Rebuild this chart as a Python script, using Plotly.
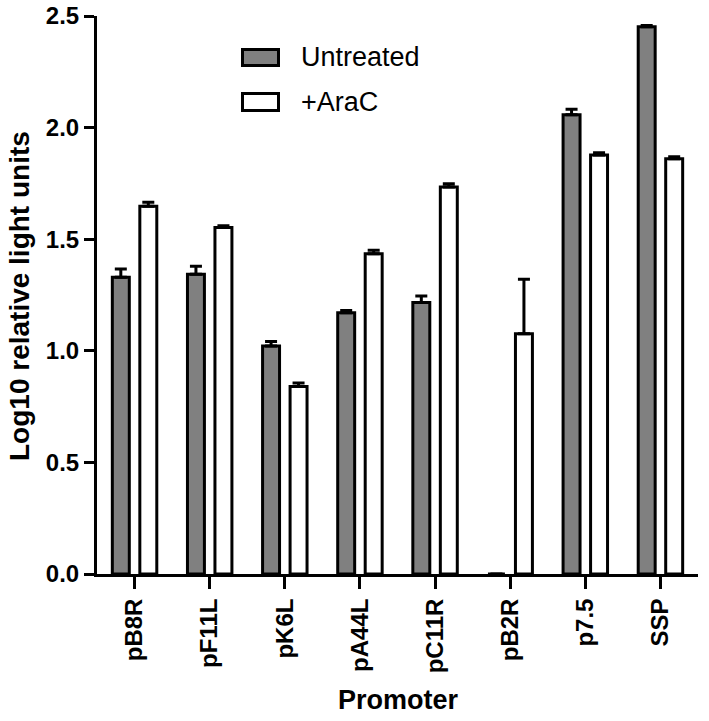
import plotly.graph_objects as go

promoters = ["pB8R", "pF11L", "pK6L", "pA44L", "pC11R", "pB2R", "p7.5", "SSP"]
untreated = [1.33, 1.343, 1.022, 1.170, 1.216, 0.0, 2.058, 2.452]
untreated_err = [0.037, 0.036, 0.020, 0.010, 0.030, 0.0, 0.024, 0.005]
arac = [1.648, 1.552, 0.840, 1.435, 1.734, 1.076, 1.877, 1.860]
arac_err = [0.018, 0.008, 0.016, 0.015, 0.014, 0.245, 0.010, 0.009]
series_names = ["Untreated", "+AraC"]
y_ticks = [0.0, 0.5, 1.0, 1.5, 2.0, 2.5]
x_title = "Promoter"
y_title = "Log10 relative light units"

FONT = "Liberation Sans, Arial, sans-serif"

fig = go.Figure()
fig.add_trace(go.Bar(
    x=promoters, y=untreated, name=series_names[0],
    marker=dict(color="#808080", line=dict(color="black", width=3)),
    error_y=dict(type="data", array=untreated_err, arrayminus=[0]*len(untreated),
                 symmetric=False, color="black", thickness=3, width=6),
    showlegend=False,
))
fig.add_trace(go.Bar(
    x=promoters, y=arac, name=series_names[1],
    marker=dict(color="white", line=dict(color="black", width=3)),
    error_y=dict(type="data", array=arac_err, arrayminus=[0]*len(arac),
                 symmetric=False, color="black", thickness=3, width=6),
    showlegend=False,
))

# pixel -> paper helpers for the plot area
W, H, L, B = 601, 558, 97, 574
def px(x):
    return (x - L) / W
def py(y):
    return (B - y) / H

# Legend drawn manually (large boxes as in the reference)
legend_items = [
    (series_names[0], "#808080", 49.5, 65.5, 57),
    (series_names[1], "white", 93.5, 110.5, 102),
]
for name, col, y0, y1, yc in legend_items:
    fig.add_shape(type="rect", xref="paper", yref="paper",
                  x0=px(242.5), x1=px(278.5), y0=py(y1), y1=py(y0),
                  fillcolor=col, line=dict(color="black", width=3))
    fig.add_annotation(xref="paper", yref="paper", x=px(299), y=py(yc),
                       xanchor="left", yanchor="middle", showarrow=False,
                       text=name, font=dict(family=FONT, size=27, color="black"))

# Axis titles
fig.add_annotation(xref="paper", yref="paper", x=px(19), y=py(296),
                   xanchor="center", yanchor="middle", showarrow=False, textangle=-90,
                   text=f"<b>{y_title}</b>", font=dict(family=FONT, size=28, color="black"))
fig.add_annotation(xref="paper", yref="paper", x=px(398), y=py(700),
                   xanchor="center", yanchor="middle", showarrow=False,
                   text=f"<b>{x_title}</b>", font=dict(family=FONT, size=27, color="black"))

fig.update_layout(
    width=709, height=721,
    margin=dict(l=97, r=11, t=16, b=147, autoexpand=False),
    paper_bgcolor="white", plot_bgcolor="white",
    barmode="group", bargap=0.268, bargroupgap=0.383,
    font=dict(family=FONT, color="black"),
)
fig.update_xaxes(
    range=[-0.5, 7.5], automargin=False,
    showline=True, linecolor="black", linewidth=3,
    ticks="outside", ticklen=12, tickwidth=3, tickcolor="black",
    tickangle=-90,
    tickfont=dict(family=FONT, size=24, color="black", weight="bold"),
    showgrid=False, zeroline=False,
)
fig.update_yaxes(
    range=[0, 2.5], automargin=False,
    tickvals=y_ticks, ticktext=[f"{v:.1f}" for v in y_ticks],
    showline=True, linecolor="black", linewidth=3,
    ticks="outside", ticklen=10, tickwidth=3, tickcolor="black",
    tickfont=dict(family=FONT, size=24, color="black", weight="bold"),
    showgrid=False, zeroline=False,
)

fig.write_html("out.html", config={"displayModeBar": False},
               post_script="document.body.style.margin='0';")
